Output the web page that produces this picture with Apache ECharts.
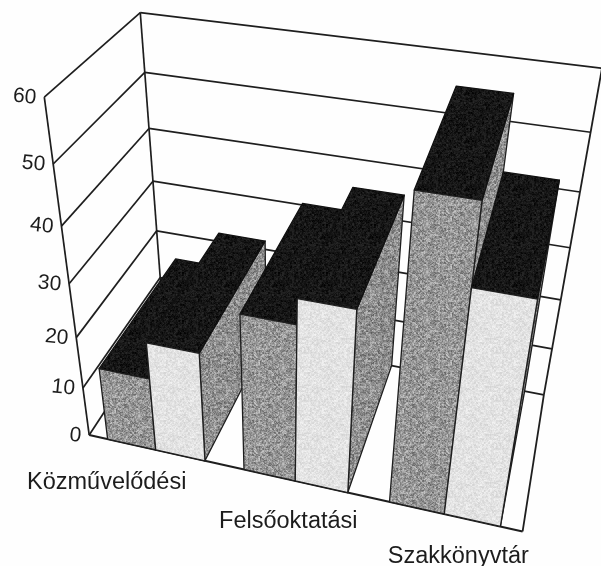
<!DOCTYPE html>
<html><head><meta charset="utf-8">
<style>html,body{margin:0;padding:0;background:#fefefe}#c{width:601px;height:566px}</style>
<script src="https://cdn.jsdelivr.net/npm/echarts@6/dist/echarts.min.js"></script>
</head><body><div id="c"></div>
<script>
const categories = ['Közművelődési', 'Felsőoktatási', 'Szakkönyvtár'];
const seriesA = [14.7, 30.3, 54.5];
const seriesB = [21.7, 34.8, 41.5];
const yTicks = [0, 10, 20, 30, 40, 50, 60];

// perspective calibration: [x 0-1, value/60, depth 0-1, pixelX, pixelY]
const calib = [
 [0,0,0,89,436],[0,1/6,0,83,388],[0,2/6,0,77,337],[0,3/6,0,68,282],[0,4/6,0,62,227],[0,5/6,0,53,164],[0,1,0,44,98],
 [1,0,0,523,531],
 [0,1,1,140,13],[0,5/6,1,145,72],[0,4/6,1,149,128],[0,3/6,1,153,181],[0,2/6,1,157,231],
 [1,1,1,601,68],[1,5/6,1,592,132],[1,4/6,1,580,192],[1,3/6,1,570,248],[1,2/6,1,561,300],[1,1/6,1,552,349],[1,0,1,543,395]
];
function fit(){
  const rows=[],rhs=[];
  calib.forEach(([x,y,z,X,Y])=>{
    rows.push([x,y,z,1,0,0,0,0,-X*x,-X*y,-X*z]);rhs.push(X);
    rows.push([0,0,0,0,x,y,z,1,-Y*x,-Y*y,-Y*z]);rhs.push(Y);
  });
  const n=11,A=[];
  for(let i=0;i<n;i++){A[i]=new Array(n+1).fill(0);
    for(let j=0;j<n;j++)rows.forEach(r=>A[i][j]+=r[i]*r[j]);
    rows.forEach((r,k)=>A[i][n]+=r[i]*rhs[k]);}
  for(let i=0;i<n;i++){let p=i;for(let k=i+1;k<n;k++)if(Math.abs(A[k][i])>Math.abs(A[p][i]))p=k;
    [A[i],A[p]]=[A[p],A[i]];
    for(let k=0;k<n;k++){if(k===i)continue;const f=A[k][i]/A[i][i];for(let j=i;j<=n;j++)A[k][j]-=f*A[i][j];}}
  return A.map((r,i)=>r[n]/r[i]);
}
const P=fit();
function proj(x,y,z){const w=P[8]*x+P[9]*y+P[10]*z+1;
  return [(P[0]*x+P[1]*y+P[2]*z+P[3])/w,(P[4]*x+P[5]*y+P[6]*z+P[7])/w];}

function tile(base,amp,seed){
  const c=document.createElement('canvas');c.width=c.height=48;const g=c.getContext('2d');
  const im=g.createImageData(48,48);
  for(let i=0;i<48;i++)for(let j=0;j<48;j++){
    const h=Math.sin((i*12.9898+j*78.233+seed)*1.37)*43758.5453;const t=h-Math.floor(h);
    const h2=Math.sin((Math.floor(i/2)*39.3+Math.floor(j/2)*11.7+seed)*2.11)*24634.6345;const t2=h2-Math.floor(h2);
    const v=base+amp*((t+t2)-1);const k=(i*48+j)*4;
    im.data[k]=im.data[k+1]=im.data[k+2]=v;im.data[k+3]=255;}
  g.putImageData(im,0,0);return {image:c,repeat:'repeat'};
}
const fillDark=tile(150,55,1),fillLight=tile(226,18,2),fillSide=tile(142,55,3),fillTop=tile(22,22,4);

const W=601,H=566,INK='#1e1e1e';
const barFrac=0.36,sideFrac=0.14,depth=1;
const bars=[];
categories.forEach((c,i)=>{bars.push([i,seriesA[i],0]);bars.push([i,seriesB[i],1]);});

const option={
  animation:false,backgroundColor:'#fefefe',
  grid:{left:0,top:0,width:W,height:H},
  xAxis:{type:'category',data:categories,show:false},
  yAxis:{type:'value',min:0,max:60,interval:10,show:false},
  series:[
   {type:'custom',silent:true,clip:false,data:yTicks.map(v=>[0,v]),encode:{x:0,y:1},z:1,
    renderItem(params,api){
      const v=1-api.coord([0,api.value(1)])[1]/H;
      const a=proj(0,v,0),b=proj(0,v,1),c=proj(1,v,1);
      const line=(p,q,lw)=>({type:'line',shape:{x1:p[0],y1:p[1],x2:q[0],y2:q[1]},style:{stroke:INK,lineWidth:lw||1.7}});
      const ch=[line(a,b),line(b,c),
        {type:'text',style:{text:String(api.value(1)),x:0,y:0,align:'right',verticalAlign:'middle',fill:'#1c1c1c',font:'21px "Liberation Sans"'},
         x:a[0]-8,y:a[1]+1,rotation:-0.1}];
      if(api.value(1)===0){
        ch.push(line(proj(0,0,0),proj(0,1,0)),line(proj(0,0,1),proj(0,1,1)),
                line(proj(0,0,0),proj(1,0,0),2),line(proj(1,0,0),proj(1,0,1),1.8),line(proj(1,0,1),proj(1,1,1),1.8));
      }
      return {type:'group',children:ch};
    }},
   {type:'custom',silent:true,clip:false,data:bars,encode:{x:0,y:1},z:2,
    renderItem(params,api){
      const cat=api.value(0),val=api.value(1),s=api.value(2);
      const c=api.coord([cat,val]),band=api.size([1,0])[0];
      const left=c[0]-band/2+band*sideFrac+s*band*barFrac,right=left+band*barFrac;
      const x0=left/W,x1=right/W,y=1-c[1]/H;
      const poly=(pts,fill,stroke)=>({type:'polygon',shape:{points:pts},style:{fill,stroke:stroke||INK,lineWidth:1.3,lineJoin:'round'}});
      const side=poly([proj(x1,0,0),proj(x1,0,depth),proj(x1,y,depth),proj(x1,y,0)],fillSide);
      const top=poly([proj(x0,y,0),proj(x1,y,0),proj(x1,y,depth),proj(x0,y,depth)],fillTop,'#111');
      const front=poly([proj(x0,0,0),proj(x1,0,0),proj(x1,y,0),proj(x0,y,0)],s===0?fillDark:fillLight);
      return {type:'group',children:[side,top,front]};
    }},
   {type:'custom',silent:true,clip:false,data:categories.map((c,i)=>[i,0]),encode:{x:0,y:1},z:3,
    renderItem(params,api){
      const i=api.value(0),c=api.coord([i,0]);
      const p=proj(c[0]/W,0,0);
      const off=[[-49,33],[-7,41],[14,43]][i];
      return {type:'text',style:{text:categories[i],x:p[0]+off[0],y:p[1]+off[1],align:'center',verticalAlign:'middle',fill:'#1c1c1c',font:'23.5px "Liberation Sans"'}};
    }}
  ]
};
const chart=echarts.init(document.getElementById('c'),null,{width:W,height:H});
chart.setOption(option);
</script></body></html>
